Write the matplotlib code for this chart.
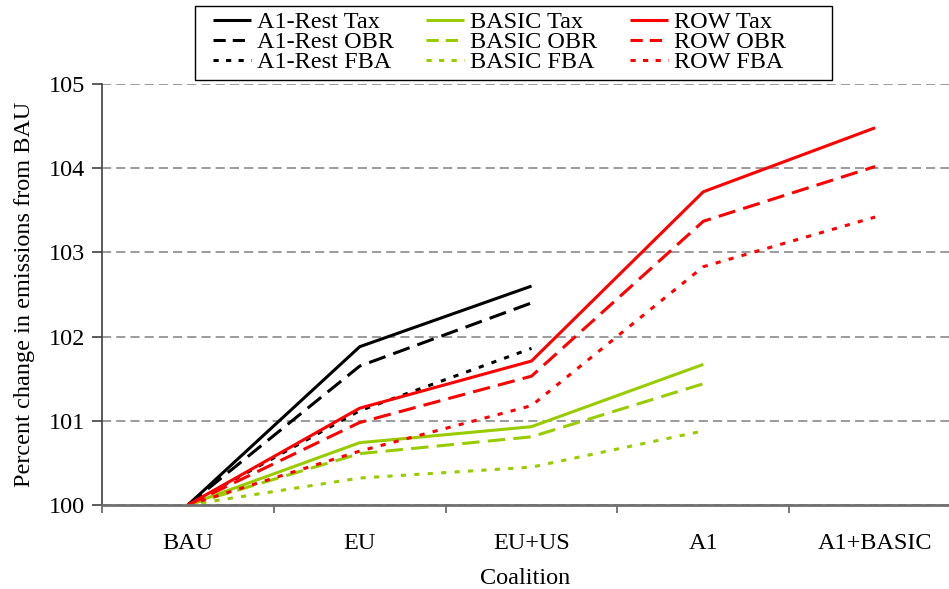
import numpy as np
import matplotlib.pyplot as plt
from matplotlib.lines import Line2D
from matplotlib.patches import Rectangle

plt.rcParams['font.family'] = ['Liberation Serif', 'DejaVu Serif']

coalitions = ['BAU', 'EU', 'EU+US', 'A1', 'A1+BASIC']

a1rest_tax = [100, 101.88, 102.60, np.nan, np.nan]
a1rest_obr = [100, 101.65, 102.40, np.nan, np.nan]
a1rest_fba = [100, 101.12, 101.86, np.nan, np.nan]
basic_tax = [100, 100.74, 100.93, 101.67, np.nan]
basic_obr = [100, 100.61, 100.81, 101.44, np.nan]
basic_fba = [100, 100.32, 100.45, 100.88, np.nan]
row_tax = [100, 101.15, 101.71, 103.72, 104.48]
row_obr = [100, 100.98, 101.53, 103.37, 104.02]
row_fba = [100, 100.64, 101.18, 102.83, 103.42]

GREEN = '#99cc00'
RED = '#ff0000'
# line styles in the plot and (shorter) in the legend samples
STYLES = {
    'tax': ('-', '-'),
    'obr': ((0, (5.7, 2.7)), (0, (4.0, 2.3))),
    'fba': ((0, (1.7, 2.7)), (0, (1.7, 2.4))),
}
FS = 17.5
W = 949
H = 589

fig = plt.figure(figsize=(W / 100, H / 100), dpi=100)
ax = fig.add_axes([102 / W, 84 / H, 1 - 102 / W, (505 - 84) / H])

x = np.arange(len(coalitions))
series = [
    (a1rest_tax, 'A1-Rest Tax', 'black', 'tax'),
    (a1rest_obr, 'A1-Rest OBR', 'black', 'obr'),
    (a1rest_fba, 'A1-Rest FBA', 'black', 'fba'),
    (basic_tax, 'BASIC Tax', GREEN, 'tax'),
    (basic_obr, 'BASIC OBR', GREEN, 'obr'),
    (basic_fba, 'BASIC FBA', GREEN, 'fba'),
    (row_tax, 'ROW Tax', RED, 'tax'),
    (row_obr, 'ROW OBR', RED, 'obr'),
    (row_fba, 'ROW FBA', RED, 'fba'),
]
handles = []
labels = []
for vals, label, color, kind in series:
    ls_plot, ls_leg = STYLES[kind]
    ax.plot(x, vals, color=color, linestyle=ls_plot, lw=2.2,
            solid_capstyle='butt', dash_capstyle='butt', clip_on=False)
    handles.append(Line2D([], [], color=color, linestyle=ls_leg, lw=2.2,
                          dash_capstyle='butt', solid_capstyle='butt'))
    labels.append(label)

ax.set_xlim(-0.5, 4.43)
ax.set_ylim(100, 105)
ax.set_yticks([100, 101, 102, 103, 104, 105])
ax.yaxis.grid(True, color='#808080', linestyle=(0, (6, 3.3)), lw=1.1)
ax.set_axisbelow(True)

ax.set_xticks(x)
ax.set_xticklabels(coalitions)
ax.set_xticks(np.arange(-0.5, 4.0, 1.0), minor=True)
ax.tick_params(axis='x', which='major', length=0, pad=20, labelsize=FS)
ax.tick_params(axis='x', which='minor', length=6, width=1.2, color='#606060')
ax.tick_params(axis='y', length=7, width=1.2, color='#404040', labelsize=FS, pad=5)

for s in ['top', 'right']:
    ax.spines[s].set_visible(False)
ax.spines['left'].set_color('#404040')
ax.spines['left'].set_linewidth(1.2)
ax.spines['bottom'].set_color('#707070')
ax.spines['bottom'].set_linewidth(2)

ax.set_xlabel('Coalition', fontsize=FS, labelpad=10)
ax.set_ylabel('Percent change in emissions from BAU', fontsize=FS, labelpad=10)

# legend box drawn as a plain rectangle, legend itself without frame
fig.patches.append(Rectangle((195 / W, 1 - 80 / H), (832 - 195) / W, 74 / H,
                             transform=fig.transFigure, fill=True,
                             facecolor='white', edgecolor='black', lw=1.0,
                             zorder=2))
leg = fig.legend(handles, labels, ncol=3, loc='upper left',
                 bbox_to_anchor=(213 / W, 1 - 11 / H), fontsize=FS,
                 frameon=False, handlelength=1.56, handletextpad=0.24,
                 columnspacing=1.35, labelspacing=-0.08, borderpad=0,
                 borderaxespad=0)

fig.savefig('out.png', dpi=100)
